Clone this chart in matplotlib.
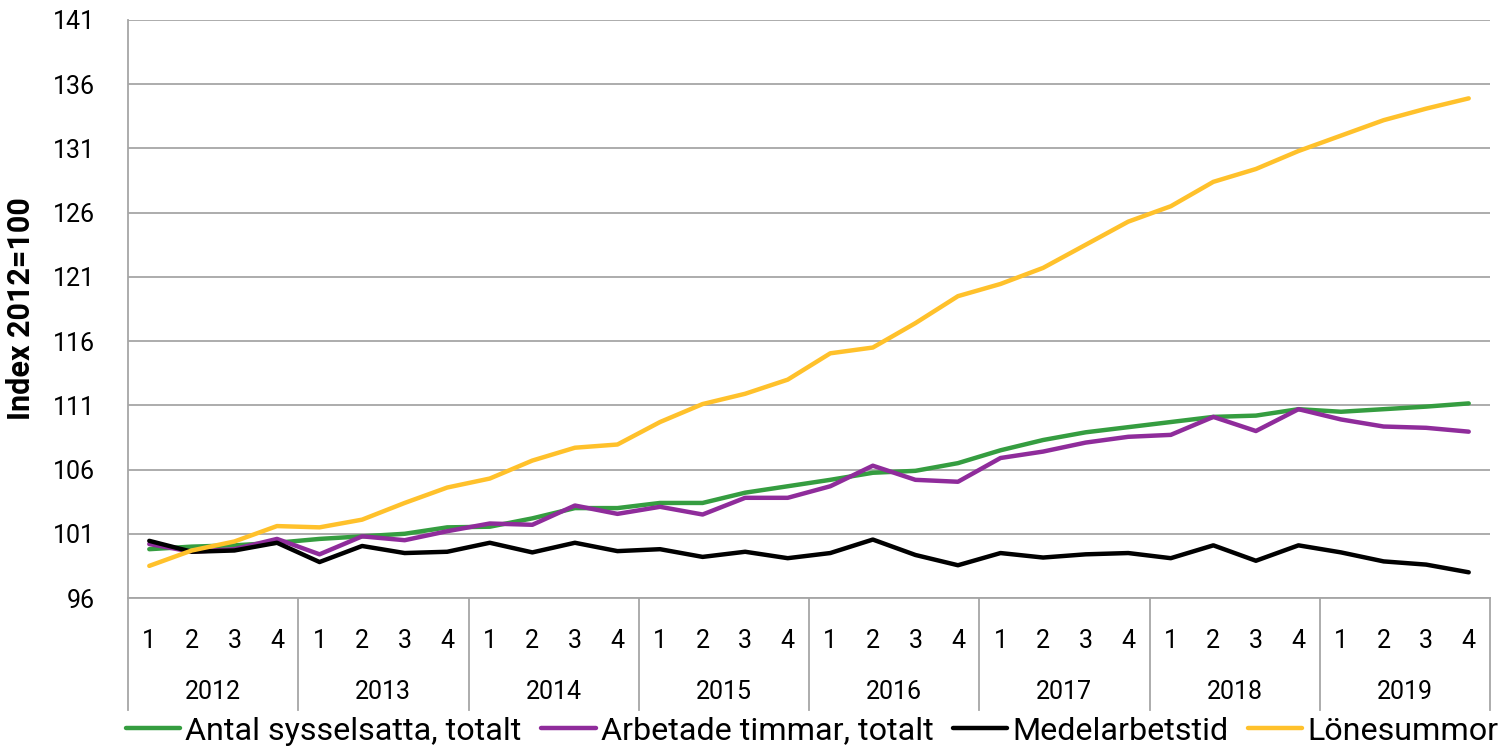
import matplotlib
matplotlib.use("Agg")
import matplotlib.pyplot as plt
from matplotlib.lines import Line2D
import numpy as np

plt.rcParams['font.family'] = ['Roboto', 'DejaVu Sans']

years = ["2012", "2013", "2014", "2015", "2016", "2017", "2018", "2019"]
quarters = ["1", "2", "3", "4"]

# Index 2012=100, kvartal 2012K1 - 2019K4
sysselsatta = [99.8, 100.0, 100.1, 100.3, 100.6, 100.8, 101.0, 101.5,
               101.55, 102.2, 103.0, 103.0, 103.4, 103.4, 104.2, 104.7,
               105.2, 105.75, 105.9, 106.5, 107.5, 108.3, 108.9, 109.3,
               109.7, 110.1, 110.2, 110.7, 110.5, 110.7, 110.9, 111.15]
timmar = [100.2, 99.6, 99.8, 100.6, 99.4, 100.8, 100.5, 101.2,
          101.8, 101.7, 103.2, 102.55, 103.1, 102.5, 103.8, 103.8,
          104.7, 106.3, 105.2, 105.05, 106.9, 107.4, 108.1, 108.55,
          108.7, 110.1, 109.0, 110.7, 109.9, 109.35, 109.25, 108.95]
medelarbetstid = [100.45, 99.6, 99.7, 100.3, 98.8, 100.05, 99.5, 99.6,
                  100.3, 99.55, 100.3, 99.65, 99.8, 99.2, 99.6, 99.1,
                  99.5, 100.55, 99.35, 98.55, 99.5, 99.15, 99.4, 99.5,
                  99.1, 100.1, 98.9, 100.1, 99.55, 98.85, 98.6, 98.0]
lonesummor = [98.5, 99.7, 100.4, 101.6, 101.5, 102.1, 103.4, 104.6,
              105.3, 106.7, 107.7, 107.95, 109.7, 111.1, 111.9, 113.0,
              115.05, 115.5, 117.4, 119.5, 120.45, 121.7, 123.5, 125.3,
              126.5, 128.4, 129.4, 130.8, 132.0, 133.2, 134.1, 134.9]

series = [
    ("Antal sysselsatta, totalt", sysselsatta, "#359d40"),
    ("Arbetade timmar, totalt", timmar, "#8f2c9b"),
    ("Medelarbetstid", medelarbetstid, "#000000"),
    ("Lönesummor", lonesummor, "#ffc12b"),
]

W, H = 1507, 751
fig = plt.figure(figsize=(W / 100, H / 100), dpi=100)
ax = fig.add_axes([128 / W, 1 - 598 / H, (1490 - 128) / W, (598 - 20) / H])

x = np.arange(len(years) * len(quarters))
for name, vals, col in series:
    ax.plot(x, vals, color=col, lw=3.2, label=name, solid_capstyle="round", zorder=3)

grid = "#a6a6a6"
ax.set_ylim(96, 141)
ax.set_yticks(np.arange(96, 142, 5))
ax.yaxis.grid(True, color=grid, lw=1.3)
ax.set_xlim(-0.5, len(x) - 0.5)
ax.set_xticks(x, quarters * len(years))
ax.tick_params(axis="x", length=0, pad=22, labelsize=18)
ax.tick_params(axis="y", length=0, pad=24, labelsize=18)
for s in ["top", "right"]:
    ax.spines[s].set_visible(False)
ax.spines["left"].set_color(grid)
ax.spines["bottom"].set_color(grid)
ax.spines["left"].set_linewidth(1.3)
ax.spines["bottom"].set_linewidth(1.3)

# kategoriaxel med år
ext = -(710 - 598) / (598 - 20)
tr = ax.get_xaxis_transform()
for k in range(len(years) + 1):
    xs = k * len(quarters) - 0.5
    ax.add_line(Line2D([xs, xs], [0, ext], transform=tr, color=grid, lw=1.3, clip_on=False))
for k, yr in enumerate(years):
    ax.text(k * len(quarters) + 1.5, -(692 - 598) / (598 - 20), yr, transform=tr,
            ha="center", va="center", fontsize=18)

ax.set_ylabel("Index 2012=100", fontsize=22, fontweight="bold", labelpad=12)

fig.legend(loc="center", bbox_to_anchor=(812 / W, 1 - 731 / H), ncol=4, frameon=False,
           fontsize=23.2, handlelength=1.7, handletextpad=0.15, columnspacing=0.6,
           borderaxespad=0)

fig.savefig("out.png", dpi=100)
